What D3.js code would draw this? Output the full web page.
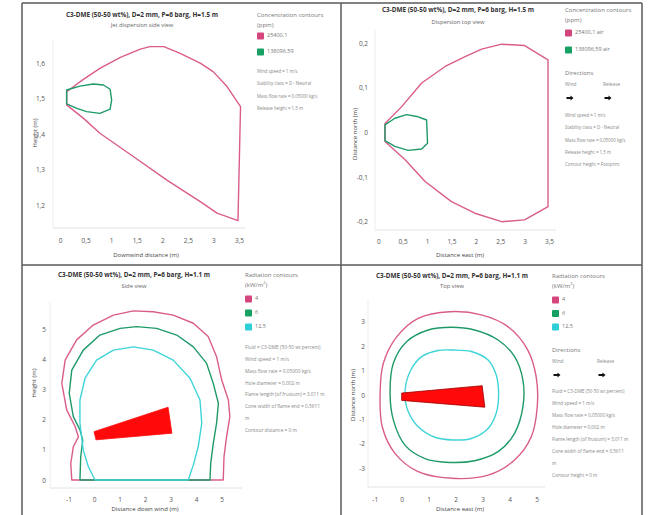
<!DOCTYPE html>
<html>
<head>
<meta charset="utf-8">
<script src="https://cdn.jsdelivr.net/npm/d3@7"></script>
<style>
body { margin: 0; background: #fff; }
text { font-family: 'Open Sans', sans-serif; }
</style>
</head>
<body>
<script>
// ---- data ----
const titleDisp = "C3-DME (50-50 wt%), D=2 mm, P=6 barg, H=1.5 m";
const titleRad = "C3-DME (50-50 wt%), D=2 mm, P=6 barg, H=1.1 m";
const concLevels = ["25400,1", "138096,59"];
const concLevelsAir = ["25400,1 air", "138096,59 air"];
const radLevels = ["4", "6", "12,5"];

const sideTicksX = [0, 0.5, 1, 1.5, 2, 2.5, 3, 3.5];
const sideTicksY = [1.2, 1.3, 1.4, 1.5, 1.6];
const topTicksY = [-0.2, -0.1, 0, 0.1, 0.2];
const radTicksX = [-1, 0, 1, 2, 3, 4, 5];
const radSideTicksY = [0, 1, 2, 3, 4, 5];
const radTopTicksY = [-3, -2, -1, 0, 1, 2, 3];

// jet dispersion, side view (distance, height)
const jetSideLow = [[0.13,1.519],[0.45,1.553],[0.78,1.585],[1.18,1.616],[1.57,1.639],[1.76,1.646],[2.03,1.646],
  [2.35,1.627],[2.75,1.599],[3.0,1.575],[3.27,1.533],[3.53,1.477],[3.48,1.156],[3.07,1.177],[2.75,1.209],
  [2.09,1.27],[1.44,1.336],[0.78,1.402],[0.46,1.444],[0.13,1.482]];
const jetSideHigh = [[0.13,1.524],[0.39,1.535],[0.65,1.541],[0.85,1.538],[0.98,1.526],[1.01,1.496],[0.98,1.47],
  [0.78,1.458],[0.52,1.463],[0.33,1.472],[0.13,1.485]];

// jet dispersion, top view (east, north)
const jetTopLow = [[0.137,0.02],[0.48,0.058],[0.89,0.111],[1.37,0.148],[1.78,0.17],[2.12,0.187],[2.53,0.198],
  [3.0,0.195],[3.48,0.163],[3.48,-0.166],[3.0,-0.196],[2.53,-0.2],[1.98,-0.181],[1.5,-0.155],[0.96,-0.11],
  [0.55,-0.061],[0.137,-0.02]];
const jetTopHigh = [[0.137,0.017],[0.34,0.032],[0.58,0.04],[0.79,0.036],[0.99,0.028],[1.01,-0.024],[0.89,-0.037],
  [0.61,-0.04],[0.34,-0.031],[0.137,-0.018]];

// radiation, side view (distance down wind, height)
const radSide4 = [[-0.87,0],[-0.91,0.55],[-0.81,1.1],[-0.61,1.43],[-0.74,1.77],[-1.07,2.32],[-1.26,3.2],[-1.13,3.97],
  [-0.68,4.64],[-0.03,5.13],[0.76,5.46],[1.54,5.6],[2.32,5.57],[3.1,5.46],[3.89,5.19],[4.47,4.75],[4.8,4.08],
  [5.0,3.31],[5.26,2.65],[5.32,2.1],[5.19,1.43],[5.09,0.77],[5.06,0]];
const radSide6 = [[-0.55,0],[-0.52,0.77],[-0.44,1.32],[-0.55,1.66],[-0.81,2.1],[-0.97,2.87],[-0.87,3.64],[-0.42,4.3],
  [0.23,4.8],[1.02,5.02],[1.67,5.08],[2.45,5.02],[3.24,4.8],[3.89,4.41],[4.41,3.86],[4.67,3.2],[4.87,2.54],
  [4.8,1.88],[4.67,1.21],[4.57,0.55],[4.54,0]];
const radSide12 = [[0.04,0],[-0.22,0.44],[-0.42,0.99],[-0.55,1.88],[-0.55,2.65],[-0.35,3.37],[0.1,3.97],[0.76,4.3],
  [1.54,4.41],[2.32,4.3],[3.1,3.97],[3.76,3.37],[4.15,2.65],[4.22,1.88],[4.08,1.1],[3.89,0.5],[3.69,0]];
const flameSide = [[0.0,1.6],[2.9,2.41],[3.05,1.55],[0.08,1.33]];

// radiation, top view (east, north)
const radTop4 = [[-0.8,0.07],[-0.68,1.3],[-0.18,2.39],[0.61,3.14],[1.78,3.41],[2.95,3.28],[3.93,2.8],[4.67,1.84],
  [4.98,0.75],[5.02,-0.48],[4.8,-1.71],[4.18,-2.66],[3.2,-3.28],[1.85,-3.41],[0.61,-3.14],[-0.25,-2.39],[-0.72,-1.3]];
const radTop6 = [[-0.43,0.07],[-0.31,1.3],[0.18,2.18],[0.98,2.66],[1.85,2.77],[2.7,2.66],[3.57,2.25],[4.18,1.57],
  [4.49,0.61],[4.49,-0.48],[4.18,-1.57],[3.57,-2.32],[2.7,-2.69],[1.78,-2.76],[0.86,-2.6],[0.12,-2.05],[-0.31,-1.02]];
const radTop12 = [[0.12,0.07],[0.31,0.96],[0.74,1.57],[1.35,1.82],[1.9,1.84],[2.58,1.78],[3.2,1.43],[3.5,0.82],
  [3.59,0.07],[3.5,-0.75],[3.2,-1.37],[2.58,-1.78],[1.9,-1.84],[1.23,-1.73],[0.61,-1.3],[0.24,-0.68]];
const flameTop = [[0.0,0.08],[2.98,0.38],[3.08,-0.5],[0.0,-0.22]];

const infoSide = ["Wind speed = 1 m/s", "Stability class = D - Neutral", "Mass flow rate = 0,05000 kg/s", "Release height = 1,5 m"];
const infoTop = ["Wind speed = 1 m/s", "Stability class = D - Neutral", "Mass flow rate = 0,05000 kg/s", "Release height = 1,5 m", "Contour height = Footprint"];
const infoRadSide = ["Fluid = C3-DME (50-50 wt percent)", "Wind speed = 1 m/s", "Mass flow rate = 0,05000 kg/s", "Hole diameter = 0,002 m",
  "Flame length (of frustum) = 3,011 m", "Cone width of flame end = 0,5611", "m", "Contour distance = 0 m"];
const infoRadTop = ["Fluid = C3-DME (50-50 wt percent)", "Wind speed = 1 m/s", "Mass flow rate = 0,05000 kg/s", "Hole diameter = 0,002 m",
  "Flame length (of frustum) = 3,011 m", "Cone width of flame end = 0,5611", "m", "Contour height = 0 m"];

// ---- styles ----
const pink = "#da5c8c", green = "#1e9a68", cyan = "#3fd4d8", flameRed = "#ff0a0a";
const pinkKey = "#d4457d", greenKey = "#17a063", cyanKey = "#2ecfd8";
const fmt = d => String(d).replace(".", ",");

const svg = d3.select("body").append("svg").attr("width", 649).attr("height", 515);

function panel(o) {
    const g = svg.append("g");
    const x = d3.scaleLinear().domain(o.xd).range(o.xr);
    const y = d3.scaleLinear().domain(o.yd).range(o.yr);

    g.append("line").attr("x1", o.left).attr("x2", o.right).attr("y1", o.axisY).attr("y2", o.axisY)
        .attr("stroke", "#e2e2e2");
    g.append("line").attr("x1", o.left).attr("x2", o.left).attr("y1", o.top).attr("y2", o.axisY)
        .attr("stroke", "#eeeeee");

    g.append("g").attr("transform", "translate(0," + o.axisY + ")")
        .call(d3.axisBottom(x).tickValues(o.tx).tickSize(0).tickPadding(o.padX).tickFormat(fmt))
        .call(a => a.select(".domain").remove())
        .selectAll("text").attr("font-size", 6.5).attr("fill", "#555").attr("font-family", "'Open Sans', sans-serif");
    g.append("g").attr("transform", "translate(" + o.left + ",0)")
        .call(d3.axisLeft(y).tickValues(o.ty).tickSize(0).tickPadding(o.padY).tickFormat(fmt))
        .call(a => a.select(".domain").remove())
        .selectAll("text").attr("font-size", 6.5).attr("fill", "#555").attr("font-family", "'Open Sans', sans-serif");

    const line = d3.line().x(d => x(d[0])).y(d => y(d[1])).curve(o.curve || d3.curveLinearClosed);
    o.contours.forEach(c => {
        g.append("path").attr("d", line(c.data)).attr("fill", "none")
            .attr("stroke", c.color).attr("stroke-width", 1.4).attr("stroke-linejoin", "round");
    });
    if (o.flame) {
        g.append("path").attr("d", d3.line().x(d => x(d[0])).y(d => y(d[1])).curve(d3.curveLinearClosed)(o.flame))
            .attr("fill", flameRed).attr("stroke", o.flameEdge || flameRed).attr("stroke-width", 0.8);
    }

    // titles
    g.append("text").attr("x", o.titleX).attr("y", o.titleY).attr("text-anchor", "middle")
        .attr("dominant-baseline", "middle").attr("font-size", 6.4).attr("font-weight", 700)
        .attr("fill", "#333").text(o.title);
    g.append("text").attr("x", o.titleX).attr("y", o.subY).attr("text-anchor", "middle")
        .attr("dominant-baseline", "middle").attr("font-size", 5.8).attr("fill", "#666").text(o.sub);
    g.append("text").attr("x", o.xtX).attr("y", o.xtY).attr("text-anchor", "middle")
        .attr("dominant-baseline", "middle").attr("font-size", 6).attr("fill", "#444").text(o.xTitle);
    g.append("text").attr("transform", "translate(" + o.ytX + "," + o.ytY + ") rotate(-90)")
        .attr("text-anchor", "middle").attr("dominant-baseline", "middle")
        .attr("font-size", 6).attr("fill", "#444").text(o.yTitle);

    // legend
    const L = o.legend;
    g.append("text").attr("x", L.x).attr("y", L.y).attr("dominant-baseline", "middle")
        .attr("font-size", 6).attr("fill", "#777").text(L.title);
    g.append("text").attr("x", L.x).attr("y", L.y + 10).attr("dominant-baseline", "middle")
        .attr("font-size", 6).attr("fill", "#777").html(L.unit);
    L.items.forEach((it, i) => {
        const cy = L.itemY + i * L.step;
        g.append("rect").attr("x", L.x).attr("y", cy - 3.5).attr("width", 7).attr("height", 7)
            .attr("rx", 1).attr("fill", it.color);
        g.append("text").attr("x", L.x + 10).attr("y", cy).attr("dominant-baseline", "middle")
            .attr("font-size", 5.5).attr("fill", "#777").text(it.label);
    });
    if (L.dirY) {
        g.append("text").attr("x", L.x).attr("y", L.dirY).attr("dominant-baseline", "middle")
            .attr("font-size", 6).attr("fill", "#777").text("Directions");
        [["Wind", L.x], ["Release", L.relX]].forEach(d => {
            g.append("text").attr("x", d[1]).attr("y", L.dirY + 12).attr("dominant-baseline", "middle")
                .attr("font-size", 4.8).attr("fill", "#888").text(d[0]);
            g.append("path").attr("transform", "translate(" + (d[1] + 5) + "," + (L.dirY + 25) + ")")
                .attr("d", "M-3.5,-0.9 L0.5,-0.9 L0.5,-2.6 L3.5,0 L0.5,2.6 L0.5,0.9 L-3.5,0.9 Z")
                .attr("fill", "#111");
        });
    }
    L.info.forEach((t, i) => {
        g.append("text").attr("x", L.x).attr("y", L.infoY + i * L.infoStep).attr("dominant-baseline", "middle")
            .attr("font-size", L.infoSize).attr("fill", "#888").text(t);
    });
}

// frame lines
const frame = svg.append("g").attr("stroke", "#5a5a5a").attr("stroke-width", 1.5);
frame.append("line").attr("x1", 22).attr("x2", 642).attr("y1", 3).attr("y2", 3);
frame.append("line").attr("x1", 22).attr("x2", 22).attr("y1", 3).attr("y2", 515);
frame.append("line").attr("x1", 642).attr("x2", 642).attr("y1", 3).attr("y2", 515);
frame.append("line").attr("x1", 341).attr("x2", 341).attr("y1", 3).attr("y2", 515);
frame.append("line").attr("x1", 22).attr("x2", 642).attr("y1", 265).attr("y2", 265);

panel({
    xd: [0, 3.5], xr: [60, 239], yd: [1.2, 1.6], yr: [205, 63],
    left: 53, right: 245, top: 40, axisY: 228, padX: 10, padY: 8,
    tx: sideTicksX, ty: sideTicksY,
    contours: [{data: jetSideLow, color: pink}, {data: jetSideHigh, color: green}],
    title: titleDisp, sub: "Jet dispersion side view", titleX: 142, titleY: 15, subY: 25,
    xTitle: "Downwind distance (m)", xtX: 146, xtY: 255,
    yTitle: "Height (m)", ytX: 35, ytY: 133,
    legend: {x: 257, y: 15, title: "Concentration contours", unit: "(ppm)", itemY: 36, step: 16,
        items: [{color: pinkKey, label: concLevels[0]}, {color: greenKey, label: concLevels[1]}],
        info: infoSide, infoY: 72, infoStep: 12.3, infoSize: 4.4}
});

panel({
    xd: [0, 3.5], xr: [378.3, 549], yd: [-0.2, 0.2], yr: [221.7, 43.3],
    left: 375, right: 556, top: 30, axisY: 230, padX: 9, padY: 7,
    tx: sideTicksX, ty: topTicksY,
    contours: [{data: jetTopLow, color: pink}, {data: jetTopHigh, color: green}],
    title: titleDisp, sub: "Dispersion top view", titleX: 458, titleY: 10, subY: 22,
    xTitle: "Distance east (m)", xtX: 460, xtY: 255,
    yTitle: "Distance north (m)", ytX: 355, ytY: 134,
    legend: {x: 565, y: 10, title: "Concentration contours", unit: "(ppm)", itemY: 33, step: 17,
        items: [{color: pinkKey, label: concLevelsAir[0]}, {color: greenKey, label: concLevelsAir[1]}],
        dirY: 73, relX: 603,
        info: infoTop, infoY: 116, infoStep: 12.3, infoSize: 4.4}
});

panel({
    xd: [0, 5], xr: [94, 221.7], yd: [0, 5], yr: [480, 329],
    left: 50, right: 242, top: 302, axisY: 488, padX: 9, padY: 4,
    tx: radTicksX, ty: radSideTicksY,
    contours: [{data: radSide4, color: pink}, {data: radSide6, color: green}, {data: radSide12, color: cyan}],
    flame: flameSide,
    title: titleRad, sub: "Side view", titleX: 134, titleY: 275, subY: 286,
    xTitle: "Distance down wind (m)", xtX: 145, xtY: 509,
    yTitle: "Height (m)", ytX: 34, ytY: 383,
    legend: {x: 245, y: 275, title: "Radiation contours", unit: "(kW/m<tspan dy='-2' font-size='4'>2</tspan><tspan dy='2'>)</tspan>",
        itemY: 299, step: 14,
        items: [{color: pinkKey, label: radLevels[0]}, {color: greenKey, label: radLevels[1]}, {color: cyanKey, label: radLevels[2]}],
        info: infoRadSide, infoY: 348, infoStep: 11.8, infoSize: 4.8}
});

panel({
    xd: [0, 5], xr: [401.7, 536.7], yd: [-3, 3], yr: [468.3, 321.7],
    left: 368, right: 545, top: 300, axisY: 487, padX: 10, padY: 3,
    tx: radTicksX, ty: radTopTicksY, curve: d3.curveCatmullRomClosed,
    contours: [{data: radTop4, color: pink}, {data: radTop6, color: green}, {data: radTop12, color: cyan}],
    flame: flameTop, flameEdge: "#9a0000",
    title: titleRad, sub: "Top view", titleX: 452, titleY: 276, subY: 286,
    xTitle: "Distance east (m)", xtX: 460, xtY: 509,
    yTitle: "Distance north (m)", ytX: 353, ytY: 395,
    legend: {x: 552, y: 276, title: "Radiation contours", unit: "(kW/m<tspan dy='-2' font-size='4'>2</tspan><tspan dy='2'>)</tspan>",
        itemY: 300, step: 13.5,
        items: [{color: pinkKey, label: radLevels[0]}, {color: greenKey, label: radLevels[1]}, {color: cyanKey, label: radLevels[2]}],
        dirY: 350, relX: 597,
        info: infoRadTop, infoY: 392, infoStep: 12, infoSize: 4.6}
});
</script>
</body>
</html>
